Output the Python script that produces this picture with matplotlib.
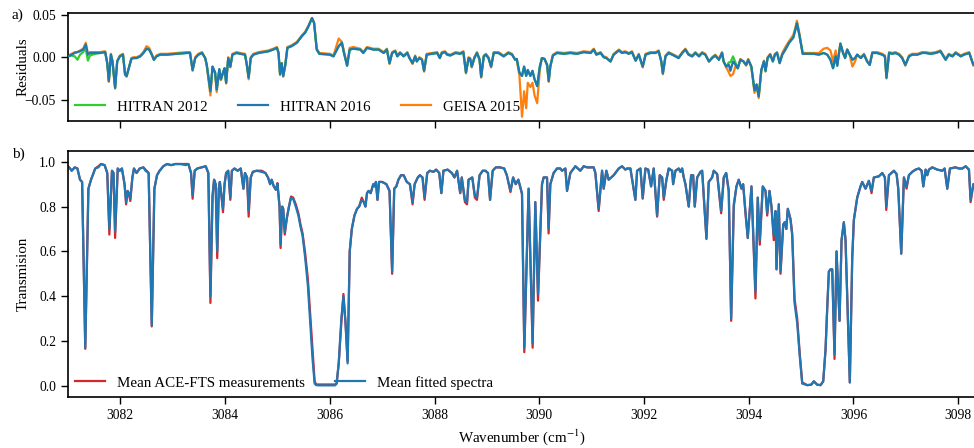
import matplotlib.pyplot as plt

# ---- panel b: transmission (wavenumber in cm-1) ----
wn_tr = [3081.00, 3081.04, 3081.07, 3081.13, 3081.18, 3081.23, 3081.27, 3081.33, 3081.39, 3081.44,
         3081.52, 3081.58, 3081.63, 3081.70, 3081.75, 3081.79, 3081.84, 3081.87, 3081.90, 3081.95,
         3081.99, 3082.03, 3082.08, 3082.11, 3082.14, 3082.16, 3082.19, 3082.23, 3082.26, 3082.31,
         3082.37, 3082.44, 3082.48, 3082.54, 3082.60, 3082.65, 3082.70, 3082.75, 3082.82, 3082.89,
         3082.97, 3083.05, 3083.15, 3083.25, 3083.30, 3083.35, 3083.38, 3083.42, 3083.47, 3083.55,
         3083.63, 3083.68, 3083.72, 3083.76, 3083.79, 3083.82, 3083.85, 3083.88, 3083.90, 3083.93,
         3083.96, 3083.99, 3084.02, 3084.06, 3084.10, 3084.13, 3084.18, 3084.24, 3084.30, 3084.35,
         3084.38, 3084.42, 3084.45, 3084.49, 3084.53, 3084.60, 3084.70, 3084.77, 3084.82, 3084.86,
         3084.89, 3084.93, 3084.97, 3085.00, 3085.04, 3085.06, 3085.09, 3085.11, 3085.14, 3085.18,
         3085.22, 3085.26, 3085.30, 3085.35, 3085.40, 3085.44, 3085.48, 3085.53, 3085.58, 3085.62,
         3085.67, 3085.71, 3085.74, 3085.80, 3085.90, 3086.00, 3086.10, 3086.13, 3086.17, 3086.22,
         3086.26, 3086.30, 3086.34, 3086.38, 3086.42, 3086.47, 3086.52, 3086.56, 3086.61, 3086.65,
         3086.68, 3086.71, 3086.74, 3086.78, 3086.83, 3086.86, 3086.88, 3086.91, 3086.94, 3087.00,
         3087.08, 3087.14, 3087.19, 3087.23, 3087.27, 3087.31, 3087.36, 3087.41, 3087.47, 3087.53,
         3087.58, 3087.62, 3087.68, 3087.72, 3087.77, 3087.81, 3087.86, 3087.91, 3087.98, 3088.03,
         3088.09, 3088.13, 3088.17, 3088.25, 3088.33, 3088.38, 3088.43, 3088.49, 3088.52, 3088.58,
         3088.62, 3088.65, 3088.72, 3088.77, 3088.81, 3088.86, 3088.92, 3088.97, 3089.02, 3089.06,
         3089.11, 3089.17, 3089.25, 3089.33, 3089.38, 3089.45, 3089.50, 3089.55, 3089.60, 3089.67,
         3089.714, 3089.796, 3089.873, 3089.924, 3089.976, 3090.052, 3090.083, 3090.148, 3090.178, 3090.211,
         3090.274, 3090.339, 3090.402, 3090.434, 3090.498, 3090.530, 3090.593, 3090.689, 3090.784, 3090.848,
         3090.912, 3091.039, 3091.071, 3091.134, 3091.199, 3091.230, 3091.281, 3091.325, 3091.421, 3091.517,
         3091.581, 3091.644, 3091.677, 3091.740, 3091.835, 3091.868, 3091.931, 3091.975, 3092.027, 3092.080,
         3092.135, 3092.185, 3092.250, 3092.300, 3092.346, 3092.377, 3092.428, 3092.473, 3092.537, 3092.556,
         3092.600, 3092.663, 3092.695, 3092.728, 3092.759, 3092.791, 3092.854, 3092.900, 3092.938, 3092.969,
         3093.015, 3093.078, 3093.110, 3093.192, 3093.236, 3093.301, 3093.332, 3093.397, 3093.473, 3093.523,
         3093.569, 3093.618, 3093.664, 3093.714, 3093.765, 3093.809, 3093.861, 3093.893, 3093.937, 3093.981,
         3094.052, 3094.128, 3094.172, 3094.211, 3094.268, 3094.320, 3094.352, 3094.396, 3094.434, 3094.478,
         3094.511, 3094.530, 3094.574, 3094.607, 3094.658, 3094.688, 3094.716, 3094.746, 3094.798, 3094.830,
         3094.874, 3094.925, 3094.975, 3095.021, 3095.117, 3095.193, 3095.243, 3095.307, 3095.371, 3095.422,
         3095.466, 3095.499, 3095.530, 3095.562, 3095.594, 3095.638, 3095.676, 3095.734, 3095.772, 3095.816,
         3095.848, 3095.930, 3095.976, 3096.007, 3096.071, 3096.134, 3096.167, 3096.230, 3096.294, 3096.345,
         3096.389, 3096.485, 3096.550, 3096.600, 3096.626, 3096.677, 3096.772, 3096.823, 3096.855, 3096.912,
         3096.963, 3097.014, 3097.058, 3097.122, 3097.186, 3097.249, 3097.301, 3097.333, 3097.377, 3097.409,
         3097.440, 3097.505, 3097.600, 3097.696, 3097.740, 3097.791, 3097.842, 3097.950, 3098.014, 3098.079,
         3098.142, 3098.205, 3098.237, 3098.289, 3098.320]

trans_fit = [0.98, 0.97, 0.96, 0.975, 0.97, 0.92, 0.91, 0.17, 0.88, 0.92,
             0.97, 0.975, 0.99, 0.985, 0.95, 0.70, 0.96, 0.95, 0.69, 0.97,
             0.96, 0.97, 0.90, 0.82, 0.87, 0.86, 0.835, 0.93, 0.97, 0.95,
             0.97, 0.975, 0.96, 0.95, 0.27, 0.88, 0.94, 0.96, 0.98, 0.99,
             0.985, 0.99, 0.99, 0.985, 0.99, 0.95, 0.85, 0.96, 0.97, 0.975,
             0.98, 0.95, 0.40, 0.85, 0.92, 0.90, 0.60, 0.88, 0.91, 0.85,
             0.79, 0.90, 0.95, 0.96, 0.84, 0.96, 0.97, 0.96, 0.97, 0.88,
             0.95, 0.93, 0.78, 0.93, 0.955, 0.96, 0.955, 0.95, 0.93, 0.90,
             0.92, 0.89, 0.875, 0.90, 0.80, 0.63, 0.80, 0.79, 0.685, 0.75,
             0.80, 0.84, 0.835, 0.80, 0.76, 0.71, 0.67, 0.57, 0.45, 0.30,
             0.12, 0.01, 0.003, 0.002, 0.002, 0.002, 0.002, 0.01, 0.10, 0.30,
             0.40, 0.28, 0.10, 0.60, 0.70, 0.76, 0.79, 0.80, 0.83, 0.82,
             0.80, 0.86, 0.87, 0.86, 0.90, 0.89, 0.91, 0.83, 0.91, 0.91,
             0.90, 0.87, 0.51, 0.88, 0.89, 0.92, 0.94, 0.94, 0.91, 0.90,
             0.82, 0.90, 0.93, 0.94, 0.93, 0.84, 0.95, 0.96, 0.955, 0.965,
             0.95, 0.86, 0.96, 0.965, 0.95, 0.93, 0.96, 0.86, 0.93, 0.83,
             0.82, 0.92, 0.93, 0.85, 0.84, 0.94, 0.96, 0.96, 0.95, 0.83,
             0.96, 0.975, 0.975, 0.97, 0.94, 0.87, 0.93, 0.90, 0.92, 0.86,
             0.17, 0.88, 0.19, 0.82, 0.41, 0.90, 0.93, 0.93, 0.70, 0.90,
             0.95, 0.97, 0.97, 0.96, 0.97, 0.87, 0.95, 0.98, 0.96, 0.98,
             0.975, 0.975, 0.95, 0.79, 0.96, 0.88, 0.96, 0.92, 0.94, 0.97,
             0.98, 0.965, 0.97, 0.97, 0.83, 0.96, 0.97, 0.84, 0.97, 0.965,
             0.89, 0.97, 0.76, 0.94, 0.93, 0.84, 0.92, 0.97, 0.96, 0.90,
             0.96, 0.97, 0.955, 0.97, 0.93, 0.90, 0.80, 0.94, 0.94, 0.80,
             0.93, 0.955, 0.96, 0.66, 0.91, 0.93, 0.96, 0.945, 0.78, 0.93,
             0.95, 0.87, 0.30, 0.81, 0.89, 0.92, 0.88, 0.90, 0.78, 0.66,
             0.89, 0.42, 0.84, 0.65, 0.89, 0.87, 0.77, 0.87, 0.80, 0.67,
             0.78, 0.52, 0.81, 0.51, 0.72, 0.73, 0.70, 0.79, 0.74, 0.67,
             0.37, 0.28, 0.13, 0.01, 0.003, 0.005, 0.02, 0.005, 0.003, 0.02,
             0.16, 0.35, 0.51, 0.52, 0.52, 0.14, 0.60, 0.29, 0.65, 0.73,
             0.65, 0.015, 0.57, 0.74, 0.84, 0.89, 0.91, 0.88, 0.915, 0.87,
             0.93, 0.935, 0.95, 0.93, 0.80, 0.94, 0.96, 0.945, 0.88, 0.59,
             0.93, 0.89, 0.94, 0.955, 0.965, 0.97, 0.96, 0.89, 0.965, 0.94,
             0.965, 0.975, 0.965, 0.96, 0.97, 0.88, 0.97, 0.975, 0.97, 0.97,
             0.98, 0.965, 0.83, 0.90, 0.88]

trans_meas = [0.98, 0.97, 0.96, 0.975, 0.97, 0.92, 0.91, 0.165, 0.88, 0.92,
              0.97, 0.98, 0.99, 0.985, 0.95, 0.675, 0.96, 0.95, 0.66, 0.97,
              0.96, 0.97, 0.90, 0.81, 0.87, 0.86, 0.825, 0.93, 0.97, 0.95,
              0.97, 0.975, 0.965, 0.95, 0.265, 0.88, 0.94, 0.96, 0.98, 0.99,
              0.985, 0.99, 0.99, 0.99, 0.99, 0.95, 0.835, 0.96, 0.97, 0.975,
              0.98, 0.95, 0.37, 0.84, 0.92, 0.90, 0.57, 0.88, 0.91, 0.85,
              0.775, 0.90, 0.95, 0.96, 0.83, 0.96, 0.97, 0.96, 0.97, 0.88,
              0.95, 0.93, 0.755, 0.93, 0.955, 0.96, 0.96, 0.95, 0.93, 0.90,
              0.92, 0.89, 0.875, 0.905, 0.80, 0.615, 0.80, 0.79, 0.675, 0.75,
              0.80, 0.845, 0.84, 0.81, 0.77, 0.72, 0.68, 0.59, 0.48, 0.34,
              0.16, 0.02, 0.006, 0.006, 0.006, 0.006, 0.006, 0.01, 0.10, 0.28,
              0.41, 0.28, 0.11, 0.60, 0.70, 0.76, 0.79, 0.80, 0.84, 0.82,
              0.80, 0.86, 0.87, 0.86, 0.90, 0.89, 0.91, 0.83, 0.91, 0.91,
              0.90, 0.87, 0.50, 0.88, 0.89, 0.92, 0.94, 0.94, 0.91, 0.90,
              0.81, 0.90, 0.93, 0.94, 0.93, 0.83, 0.95, 0.96, 0.955, 0.965,
              0.95, 0.86, 0.96, 0.965, 0.95, 0.93, 0.96, 0.86, 0.93, 0.82,
              0.81, 0.92, 0.93, 0.84, 0.83, 0.94, 0.96, 0.96, 0.95, 0.83,
              0.96, 0.975, 0.975, 0.97, 0.94, 0.865, 0.93, 0.90, 0.92, 0.855,
              0.15, 0.88, 0.17, 0.82, 0.38, 0.90, 0.93, 0.93, 0.68, 0.90,
              0.95, 0.97, 0.97, 0.96, 0.97, 0.87, 0.95, 0.98, 0.96, 0.98,
              0.975, 0.975, 0.95, 0.78, 0.96, 0.88, 0.96, 0.92, 0.94, 0.97,
              0.98, 0.965, 0.97, 0.97, 0.83, 0.96, 0.97, 0.835, 0.97, 0.965,
              0.89, 0.97, 0.755, 0.94, 0.93, 0.83, 0.92, 0.97, 0.96, 0.90,
              0.96, 0.97, 0.955, 0.97, 0.93, 0.90, 0.80, 0.94, 0.94, 0.80,
              0.93, 0.955, 0.96, 0.655, 0.91, 0.93, 0.96, 0.945, 0.77, 0.93,
              0.95, 0.87, 0.29, 0.80, 0.89, 0.92, 0.88, 0.90, 0.77, 0.66,
              0.89, 0.39, 0.84, 0.63, 0.89, 0.87, 0.76, 0.87, 0.80, 0.65,
              0.78, 0.52, 0.81, 0.50, 0.72, 0.73, 0.70, 0.79, 0.745, 0.68,
              0.39, 0.30, 0.14, 0.015, 0.003, 0.005, 0.02, 0.005, 0.003, 0.02,
              0.16, 0.35, 0.51, 0.52, 0.52, 0.12, 0.60, 0.29, 0.65, 0.73,
              0.65, 0.015, 0.57, 0.74, 0.84, 0.89, 0.91, 0.88, 0.915, 0.86,
              0.93, 0.935, 0.95, 0.93, 0.785, 0.94, 0.96, 0.945, 0.88, 0.59,
              0.93, 0.88, 0.94, 0.955, 0.965, 0.97, 0.96, 0.89, 0.965, 0.94,
              0.965, 0.975, 0.965, 0.96, 0.97, 0.88, 0.97, 0.975, 0.97, 0.97,
              0.98, 0.965, 0.82, 0.90, 0.88]

# ---- panel a: residuals ----
wn_res = [3081.006, 3081.07, 3081.13, 3081.18, 3081.23, 3081.29, 3081.34, 3081.38, 3081.42, 3081.52,
          3081.61, 3081.71, 3081.75, 3081.78, 3081.82, 3081.85, 3081.90, 3081.94, 3081.99, 3082.05,
          3082.09, 3082.12, 3082.17, 3082.21, 3082.25, 3082.31, 3082.38, 3082.44, 3082.50, 3082.55,
          3082.60, 3082.64, 3082.69, 3082.76, 3082.89, 3083.08, 3083.27, 3083.33, 3083.38, 3083.43,
          3083.49, 3083.56, 3083.62, 3083.65, 3083.72, 3083.76, 3083.81, 3083.84, 3083.89, 3083.92,
          3083.96, 3083.99, 3084.02, 3084.06, 3084.10, 3084.14, 3084.22, 3084.29, 3084.38, 3084.41,
          3084.45, 3084.49, 3084.54, 3084.64, 3084.73, 3084.83, 3084.92, 3084.99, 3085.02, 3085.05,
          3085.08, 3085.11, 3085.15, 3085.19, 3085.27, 3085.37, 3085.47, 3085.53, 3085.59, 3085.66,
          3085.70, 3085.75, 3085.80, 3086.00, 3086.07, 3086.17, 3086.23, 3086.27, 3086.33, 3086.38,
          3086.45, 3086.58, 3086.64, 3086.71, 3086.83, 3086.93, 3087.03, 3087.09, 3087.14, 3087.19,
          3087.25, 3087.29, 3087.34, 3087.41, 3087.48, 3087.52, 3087.58, 3087.63, 3087.66, 3087.71,
          3087.76, 3087.80, 3087.85, 3087.95, 3088.05, 3088.10, 3088.14, 3088.20, 3088.24, 3088.30,
          3088.40, 3088.49, 3088.55, 3088.60, 3088.65, 3088.68, 3088.71, 3088.76, 3088.81, 3088.86,
          3088.89, 3088.94, 3088.98, 3089.03, 3089.08, 3089.13, 3089.22, 3089.32, 3089.41, 3089.48,
          3089.54, 3089.57, 3089.62, 3089.67, 3089.71, 3089.75, 3089.78, 3089.83, 3089.87, 3089.91,
          3089.96, 3090.01, 3090.05, 3090.10, 3090.15, 3090.18, 3090.21, 3090.26, 3090.34, 3090.47,
          3090.59, 3090.72, 3090.85, 3090.98, 3091.04, 3091.09, 3091.17, 3091.23, 3091.28, 3091.36,
          3091.42, 3091.52, 3091.58, 3091.64, 3091.71, 3091.77, 3091.84, 3091.90, 3091.975, 3092.03,
          3092.12, 3092.22, 3092.28, 3092.33, 3092.36, 3092.41, 3092.47, 3092.57, 3092.66, 3092.73,
          3092.79, 3092.85, 3092.92, 3092.98, 3093.05, 3093.11, 3093.17, 3093.24, 3093.30, 3093.36,
          3093.43, 3093.49, 3093.52, 3093.57, 3093.62, 3093.65, 3093.70, 3093.75, 3093.79, 3093.84,
          3093.90, 3093.95, 3093.99, 3094.05, 3094.11, 3094.15, 3094.19, 3094.24, 3094.29, 3094.32,
          3094.36, 3094.41, 3094.46, 3094.50, 3094.54, 3094.59, 3094.64, 3094.70, 3094.77, 3094.85,
          3094.89, 3094.92, 3094.97, 3095.03, 3095.12, 3095.24, 3095.34, 3095.43, 3095.50, 3095.56,
          3095.61, 3095.66, 3095.69, 3095.75, 3095.80, 3095.84, 3095.88, 3095.93, 3095.98, 3096.03,
          3096.07, 3096.14, 3096.20, 3096.26, 3096.31, 3096.36, 3096.45, 3096.55, 3096.60, 3096.63,
          3096.68, 3096.74, 3096.80, 3096.87, 3096.93, 3096.99, 3097.06, 3097.12, 3097.22, 3097.31,
          3097.38, 3097.47, 3097.57, 3097.66, 3097.76, 3097.82, 3097.89, 3097.95, 3098.05, 3098.11,
          3098.21, 3098.29, 3098.32]

resid_h16 = [0.001, 0.003, 0.005, 0.006, 0.007, 0.009, 0.015, 0.003, 0.005, 0.005,
             0.005, 0.006, -0.007, -0.028, 0.003, -0.005, -0.036, -0.005, 0.001, 0.003,
             -0.020, -0.022, -0.011, -0.002, -0.001, -0.001, 0.001, 0.005, 0.010, 0.009,
             0.003, -0.003, 0.001, 0.003, 0.003, 0.004, 0.005, 0.005, -0.015, -0.001,
             0.003, 0.005, -0.001, -0.009, -0.040, -0.011, -0.018, -0.038, -0.014, -0.026,
             -0.018, -0.013, -0.030, -0.001, -0.011, 0.003, 0.005, 0.004, 0.003, -0.007,
             -0.024, -0.001, 0.003, 0.005, 0.006, 0.007, 0.009, 0.011, 0.005, -0.020,
             -0.007, -0.022, -0.009, 0.011, 0.013, 0.017, 0.025, 0.029, 0.036, 0.046,
             0.040, 0.009, 0.004, 0.003, 0.001, 0.013, 0.017, 0.005, -0.010, 0.009,
             0.010, 0.009, 0.005, 0.011, 0.009, 0.009, 0.005, 0.009, -0.007, 0.005,
             0.007, 0.001, 0.005, 0.001, 0.005, -0.001, -0.007, 0.001, -0.005, -0.001,
             -0.003, -0.016, 0.003, 0.004, 0.005, -0.001, 0.005, 0.006, 0.003, 0.002,
             0.005, 0.004, 0.006, -0.018, -0.001, -0.002, -0.011, -0.001, 0.005, -0.003,
             -0.023, 0.001, 0.003, -0.001, -0.011, 0.005, 0.005, 0.001, 0.005, 0.003,
             -0.003, -0.002, -0.018, -0.022, -0.011, -0.022, -0.015, -0.022, -0.016, -0.026,
             -0.034, -0.011, -0.001, -0.002, -0.009, -0.028, -0.011, 0.002, 0.005, 0.004,
             0.005, 0.004, 0.006, 0.005, 0.009, 0.003, 0.005, 0.000, -0.001, -0.005,
             0.003, 0.008, 0.005, 0.006, 0.004, 0.006, -0.004, 0.003, -0.011, 0.003,
             0.005, 0.005, 0.007, -0.005, -0.019, 0.001, 0.005, 0.002, -0.001, 0.005,
             0.009, 0.003, 0.001, 0.005, 0.001, 0.005, 0.003, -0.005, -0.001, 0.002,
             -0.003, 0.005, -0.005, -0.011, -0.009, -0.016, -0.005, -0.009, -0.013, -0.003,
             -0.005, -0.009, -0.003, -0.011, -0.039, -0.032, -0.046, -0.015, -0.005, -0.016,
             -0.001, 0.003, -0.005, 0.003, 0.005, -0.007, 0.003, 0.009, 0.017, 0.023,
             0.032, 0.040, 0.025, 0.004, 0.004, 0.004, 0.003, 0.005, 0.003, -0.003,
             -0.013, 0.001, -0.010, 0.016, 0.005, -0.001, 0.009, 0.003, -0.003, -0.001,
             0.003, -0.001, 0.003, -0.005, -0.009, 0.005, 0.005, 0.003, 0.001, -0.024,
             0.005, 0.004, 0.005, 0.003, -0.001, -0.009, 0.001, 0.003, 0.003, 0.005,
             0.005, 0.004, 0.005, 0.007, -0.003, 0.003, 0.001, 0.005, 0.001, 0.003,
             0.005, -0.009, -0.008]

resid_h12 = [0.001, 0.002, 0.001, -0.003, 0.003, 0.006, 0.010, -0.004, 0.002, 0.004,
             0.005, 0.006, -0.007, -0.028, 0.003, -0.005, -0.036, -0.005, 0.001, 0.003,
             -0.020, -0.022, -0.011, -0.002, -0.001, -0.001, 0.001, 0.005, 0.010, 0.009,
             0.003, -0.003, 0.001, 0.003, 0.003, 0.004, 0.005, 0.005, -0.015, -0.001,
             0.003, 0.005, -0.001, -0.009, -0.040, -0.011, -0.018, -0.038, -0.014, -0.026,
             -0.018, -0.013, -0.030, -0.001, -0.011, 0.003, 0.005, 0.004, 0.003, -0.007,
             -0.024, -0.001, 0.003, 0.005, 0.006, 0.007, 0.009, 0.011, 0.005, -0.020,
             -0.007, -0.022, -0.009, 0.011, 0.013, 0.017, 0.025, 0.029, 0.036, 0.046,
             0.040, 0.009, 0.004, 0.003, 0.001, 0.013, 0.017, 0.005, -0.010, 0.009,
             0.010, 0.009, 0.005, 0.011, 0.009, 0.009, 0.005, 0.009, -0.007, 0.005,
             0.007, 0.001, 0.005, 0.001, 0.005, -0.001, -0.007, 0.001, -0.005, -0.001,
             -0.003, -0.016, 0.003, 0.004, 0.005, -0.001, 0.005, 0.006, 0.003, 0.002,
             0.005, 0.004, 0.006, -0.018, -0.001, -0.002, -0.011, -0.001, 0.005, -0.003,
             -0.023, 0.001, 0.003, -0.001, -0.011, 0.005, 0.005, 0.001, 0.005, 0.003,
             -0.003, -0.002, -0.018, -0.022, -0.011, -0.022, -0.015, -0.022, -0.016, -0.026,
             -0.034, -0.011, -0.001, -0.002, -0.009, -0.028, -0.011, 0.002, 0.005, 0.004,
             0.005, 0.004, 0.006, 0.005, 0.009, 0.003, 0.005, 0.000, -0.001, -0.005,
             0.003, 0.008, 0.005, 0.006, 0.004, 0.006, -0.004, 0.003, -0.011, 0.003,
             0.005, 0.005, 0.007, -0.005, -0.019, 0.001, 0.005, 0.002, -0.001, 0.005,
             0.009, 0.003, 0.001, 0.005, 0.001, 0.005, 0.003, -0.005, -0.001, 0.002,
             -0.003, 0.005, -0.005, -0.011, -0.006, -0.006, 0.001, -0.007, -0.013, -0.003,
             -0.005, -0.009, -0.003, -0.011, -0.039, -0.032, -0.046, -0.015, -0.005, -0.016,
             -0.001, 0.003, -0.005, 0.003, 0.005, -0.007, 0.003, 0.009, 0.017, 0.023,
             0.032, 0.040, 0.025, 0.004, 0.004, 0.004, 0.003, 0.005, 0.003, -0.003,
             -0.013, 0.001, -0.010, 0.016, 0.005, -0.001, 0.009, 0.003, -0.003, -0.001,
             0.003, -0.001, 0.003, -0.005, -0.009, 0.005, 0.005, 0.003, 0.001, -0.024,
             0.005, 0.004, 0.005, 0.003, -0.001, -0.009, 0.001, 0.003, 0.003, 0.005,
             0.005, 0.004, 0.005, 0.007, -0.003, 0.003, 0.001, 0.005, 0.001, 0.003,
             0.005, -0.009, -0.008]

resid_geisa = [0.002, 0.004, 0.006, 0.006, 0.008, 0.010, 0.017, 0.004, 0.006, 0.006,
               0.006, 0.007, -0.007, -0.029, 0.004, -0.005, -0.037, -0.004, 0.002, 0.004,
               -0.021, -0.023, -0.011, -0.001, 0.000, 0.000, 0.002, 0.006, 0.013, 0.011,
               0.004, -0.003, 0.002, 0.004, 0.004, 0.005, 0.006, 0.006, -0.016, 0.000,
               0.004, 0.006, -0.001, -0.010, -0.045, -0.012, -0.019, -0.041, -0.015, -0.027,
               -0.019, -0.013, -0.031, 0.000, -0.012, 0.004, 0.006, 0.005, 0.004, -0.007,
               -0.026, 0.000, 0.004, 0.006, 0.007, 0.008, 0.010, 0.012, 0.006, -0.021,
               -0.007, -0.023, -0.009, 0.012, 0.014, 0.018, 0.026, 0.030, 0.037, 0.046,
               0.041, 0.010, 0.005, 0.004, 0.002, 0.022, 0.018, 0.007, -0.009, 0.011,
               0.012, 0.010, 0.006, 0.012, 0.010, 0.010, 0.006, 0.010, -0.008, 0.006,
               0.008, 0.002, 0.006, 0.002, 0.006, 0.000, -0.008, 0.002, -0.004, 0.000,
               -0.002, -0.017, 0.004, 0.005, 0.006, 0.000, 0.006, 0.007, 0.004, 0.003,
               0.006, 0.005, 0.007, -0.019, 0.000, -0.001, -0.012, 0.000, 0.006, -0.002,
               -0.024, 0.002, 0.004, 0.000, -0.012, 0.006, 0.006, 0.002, 0.006, 0.004,
               -0.003, -0.003, -0.021, -0.070, -0.040, -0.060, -0.030, -0.035, -0.030, -0.045,
               -0.054, -0.015, -0.001, -0.002, -0.010, -0.029, -0.011, 0.003, 0.006, 0.005,
               0.006, 0.005, 0.007, 0.006, 0.010, 0.004, 0.006, 0.001, 0.000, -0.005,
               0.004, 0.009, 0.006, 0.007, 0.005, 0.007, -0.004, 0.004, -0.012, 0.004,
               0.006, 0.006, 0.008, -0.005, -0.020, 0.002, 0.006, 0.003, 0.000, 0.006,
               0.010, 0.004, 0.002, 0.006, 0.002, 0.006, 0.004, -0.005, 0.000, 0.003,
               -0.002, 0.006, -0.005, -0.012, -0.018, -0.022, -0.020, -0.010, -0.013, -0.002,
               -0.005, -0.010, -0.002, -0.012, -0.042, -0.033, -0.048, -0.016, -0.004, -0.017,
               0.000, 0.004, -0.004, 0.004, 0.006, -0.006, 0.005, 0.012, 0.019, 0.026,
               0.035, 0.043, 0.027, 0.005, 0.005, 0.005, 0.005, 0.010, 0.011, 0.008,
               -0.005, 0.008, -0.008, 0.016, 0.006, 0.000, 0.009, 0.002, -0.011, -0.005,
               0.003, 0.000, 0.004, -0.004, -0.009, 0.006, 0.006, 0.004, 0.002, -0.025,
               0.006, 0.005, 0.006, 0.004, 0.000, -0.010, 0.002, 0.004, 0.004, 0.006,
               0.006, 0.005, 0.006, 0.008, -0.002, 0.004, 0.002, 0.006, 0.002, 0.004,
               0.006, -0.010, -0.009]

plt.rcParams['font.family'] = 'serif'
plt.rcParams['font.serif'] = ['Liberation Serif', 'DejaVu Serif']
plt.rcParams['mathtext.fontset'] = 'stix'

fig = plt.figure(figsize=(9.74, 4.48), dpi=100)
ax1 = fig.add_axes([0.0698, 0.7299, 0.9312, 0.2411])
ax2 = fig.add_axes([0.0698, 0.1138, 0.9312, 0.5491], sharex=ax1)

# a) residuals
ax1.plot(wn_res, resid_h12, color='limegreen', lw=1.6, label='HITRAN 2012', zorder=2)
ax1.plot(wn_res, resid_h16, color='tab:blue', lw=1.6, label='HITRAN 2016', zorder=3)
ax1.plot(wn_res, resid_geisa, color='tab:orange', lw=1.6, label='GEISA 2015', zorder=1)
ax1.set_ylim(-0.075, 0.052)
ax1.set_yticks([-0.05, 0.0, 0.05])
ax1.set_ylabel('Residuals', fontsize=10.8)
ax1.legend(loc='lower left', ncol=3, frameon=False, fontsize=10.8, borderaxespad=0.1)
ax1.tick_params(labelbottom=False)

# b) transmission
ax2.plot(wn_tr, trans_meas, color='tab:red', lw=1.6, label='Mean ACE-FTS measurements')
ax2.plot(wn_tr, trans_fit, color='tab:blue', lw=1.6, label='Mean fitted spectra')
ax2.set_ylim(-0.05, 1.048)
ax2.set_yticks([0.0, 0.2, 0.4, 0.6, 0.8, 1.0])
ax2.set_xlim(3081.0, 3098.32)
ax2.set_xticks([3082, 3084, 3086, 3088, 3090, 3092, 3094, 3096, 3098])
ax2.set_ylabel('Transmision', fontsize=10.8)
ax2.set_xlabel('Wavenumber (cm$^{-1}$)', fontsize=10.8)
ax2.legend(loc='lower left', ncol=2, frameon=False, fontsize=10.8, borderaxespad=0.1)

for ax in (ax1, ax2):
    ax.tick_params(labelsize=9.8, length=5, width=1)
    for s in ax.spines.values():
        s.set_linewidth(1.2)
    ax.yaxis.set_label_coords(-0.042, 0.5)

fig.text(0.012, 0.957, 'a)', fontsize=11)
fig.text(0.012, 0.647, 'b)', fontsize=11)

fig.savefig('out.png', dpi=100)
